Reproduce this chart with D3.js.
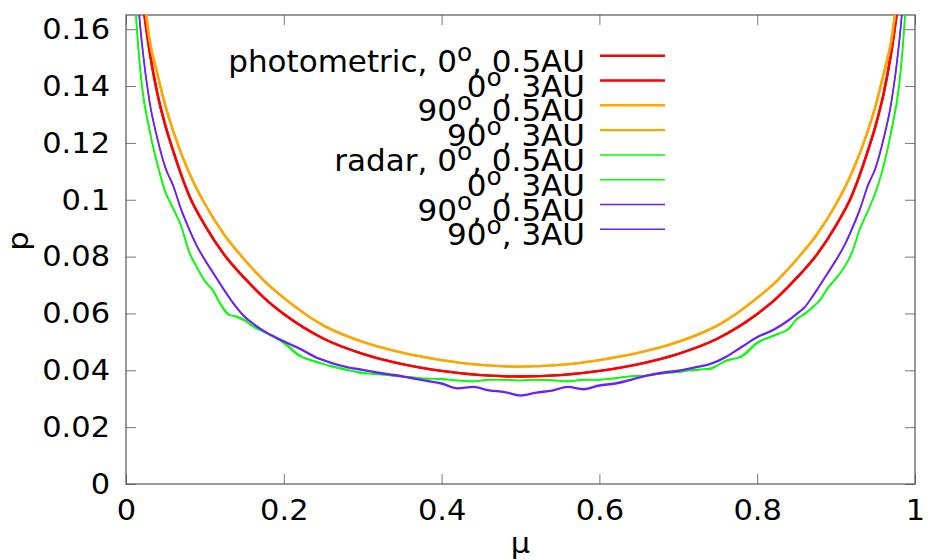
<!DOCTYPE html>
<html>
<head>
<meta charset="utf-8">
<script src="https://cdn.jsdelivr.net/npm/d3@7"></script>
<style>
  body { margin: 0; background: #fff; }
  text { font-family: "DejaVu Sans", sans-serif; }
</style>
</head>
<body>
<script>
// photometric curves (0 deg overlaps for 0.5AU and 3AU)
const muPhot = [0.02, 0.03, 0.04, 0.05, 0.06, 0.08, 0.10, 0.125, 0.15, 0.175, 0.2, 0.25, 0.3, 0.35, 0.4, 0.45, 0.5,
                0.55, 0.6, 0.65, 0.7, 0.75, 0.8, 0.825, 0.85, 0.875, 0.9, 0.92, 0.94, 0.95, 0.96, 0.97, 0.98];
const phot0 = [0.172, 0.152, 0.137, 0.126, 0.117, 0.1015, 0.091, 0.0805, 0.0725, 0.0655, 0.0598, 0.0512, 0.0458, 0.0422, 0.0398, 0.0383, 0.0378,
               0.0383, 0.0398, 0.0422, 0.0458, 0.0512, 0.0598, 0.0655, 0.0725, 0.0805, 0.091, 0.1015, 0.117, 0.126, 0.137, 0.152, 0.172];
const phot90 = [0.178, 0.156, 0.144, 0.133, 0.124, 0.1095, 0.0985, 0.0875, 0.079, 0.0715, 0.0655, 0.0558, 0.05, 0.0462, 0.0436, 0.0419, 0.0413,
                0.0419, 0.0436, 0.0462, 0.05, 0.0558, 0.0655, 0.0715, 0.079, 0.0875, 0.0985, 0.1095, 0.124, 0.133, 0.144, 0.156, 0.178];

// radar curves
const muRad = [0.005, 0.01, 0.015, 0.02, 0.03, 0.04, 0.05, 0.06, 0.07, 0.08, 0.09, 0.10, 0.11, 0.12, 0.13, 0.14, 0.15, 0.16, 0.18, 0.19,
               0.2, 0.22, 0.24, 0.26, 0.28, 0.3, 0.32, 0.34, 0.36, 0.38, 0.4, 0.42, 0.44, 0.46, 0.48, 0.5,
               0.52, 0.54, 0.56, 0.58, 0.6, 0.62, 0.64, 0.66, 0.68, 0.7, 0.72, 0.74, 0.76, 0.78, 0.8, 0.82, 0.84, 0.85,
               0.86, 0.87, 0.88, 0.89, 0.9, 0.91, 0.92, 0.93, 0.94, 0.95, 0.96, 0.97, 0.98, 0.985, 0.99, 0.995];
const rad0a = [0.20, 0.175, 0.155, 0.140, 0.124, 0.112, 0.1025, 0.097, 0.0905, 0.0815, 0.076, 0.0715, 0.068, 0.063, 0.0595, 0.059, 0.0578, 0.0555, 0.053, 0.0515,
               0.0495, 0.045, 0.0432, 0.0413, 0.040, 0.0392, 0.0385, 0.0382, 0.0375, 0.0372, 0.0368, 0.0365, 0.036, 0.0368, 0.0366, 0.0365,
               0.0366, 0.0366, 0.036, 0.0368, 0.0366, 0.0373, 0.0378, 0.0383, 0.0388, 0.0395, 0.040, 0.0407, 0.0432, 0.045, 0.0498, 0.052, 0.0548, 0.0578,
               0.060, 0.062, 0.065, 0.069, 0.0725, 0.076, 0.0815, 0.0895, 0.096, 0.1025, 0.112, 0.124, 0.140, 0.155, 0.175, 0.20];
const rad0b = [0.20, 0.176, 0.156, 0.141, 0.1245, 0.1125, 0.1028, 0.0966, 0.0908, 0.0818, 0.0763, 0.0712, 0.0683, 0.0634, 0.0598, 0.0587, 0.0575, 0.0558, 0.0527, 0.0512,
               0.0498, 0.0453, 0.0429, 0.0416, 0.0403, 0.0389, 0.0387, 0.0379, 0.0377, 0.0370, 0.0370, 0.0363, 0.0362, 0.0366, 0.0368, 0.0363,
               0.0368, 0.0364, 0.0362, 0.0366, 0.0368, 0.0371, 0.0380, 0.0381, 0.0390, 0.0393, 0.0403, 0.0404, 0.0435, 0.0447, 0.0495, 0.0523, 0.0545, 0.0581,
               0.0597, 0.0623, 0.0647, 0.0693, 0.0722, 0.0763, 0.0812, 0.0898, 0.0957, 0.1028, 0.1115, 0.1245, 0.141, 0.156, 0.176, 0.20];
const rad90a = [0.23, 0.19, 0.170, 0.155, 0.134, 0.121, 0.111, 0.105, 0.0963, 0.0895, 0.0835, 0.0787, 0.0743, 0.070, 0.0658, 0.062, 0.0588, 0.0565, 0.0528, 0.0514,
                0.050, 0.0475, 0.0445, 0.0425, 0.041, 0.040, 0.039, 0.0382, 0.0372, 0.0362, 0.0352, 0.0335, 0.034, 0.0328, 0.0322, 0.031,
                0.032, 0.0327, 0.034, 0.0332, 0.0345, 0.0352, 0.0365, 0.038, 0.039, 0.0397, 0.0408, 0.042, 0.0445, 0.048, 0.0515, 0.054, 0.0575, 0.0597,
                0.062, 0.0658, 0.070, 0.0743, 0.0787, 0.0835, 0.0895, 0.0963, 0.105, 0.111, 0.121, 0.134, 0.155, 0.170, 0.19, 0.23];
const rad90b = [0.23, 0.191, 0.171, 0.156, 0.1345, 0.1215, 0.1114, 0.1046, 0.0967, 0.0899, 0.0838, 0.0790, 0.0746, 0.0703, 0.0661, 0.0623, 0.0591, 0.0568, 0.0531, 0.0517,
                0.0503, 0.0478, 0.0448, 0.0428, 0.0413, 0.0403, 0.0393, 0.0385, 0.0375, 0.0365, 0.0355, 0.0338, 0.0343, 0.0331, 0.0325, 0.0313,
                0.0323, 0.0330, 0.0343, 0.0335, 0.0348, 0.0355, 0.0368, 0.0383, 0.0393, 0.0400, 0.0411, 0.0423, 0.0448, 0.0483, 0.0518, 0.0543, 0.0578, 0.0600,
                0.0623, 0.0661, 0.0703, 0.0746, 0.0790, 0.0838, 0.0899, 0.0967, 0.1046, 0.1114, 0.1215, 0.1345, 0.156, 0.171, 0.191, 0.23];

const xTicks = [0, 0.2, 0.4, 0.6, 0.8, 1];
const yTicks = [0, 0.02, 0.04, 0.06, 0.08, 0.1, 0.12, 0.14, 0.16];

// legend rows: text before the degree mark, text after it
const legendPre = ["photometric, 0", "0", "90", "90", "radar, 0", "0", "90", "90"];
const legendPost = [", 0.5AU", ", 3AU", ", 0.5AU", ", 3AU", ", 0.5AU", ", 3AU", ", 0.5AU", ", 3AU"];

const series = [
  {mu: muPhot, p: phot0, color: "#ff0000", w: 2.4},
  {mu: muPhot, p: phot0, color: "#ff0000", w: 2.4},
  {mu: muPhot, p: phot90, color: "#ffa500", w: 2.4},
  {mu: muPhot, p: phot90, color: "#ffa500", w: 2.4},
  {mu: muRad, p: rad0a, color: "#00ff00", w: 1.5},
  {mu: muRad, p: rad0b, color: "#00ff00", w: 1.5},
  {mu: muRad, p: rad90a, color: "#6b1fff", w: 1.5},
  {mu: muRad, p: rad90b, color: "#6b1fff", w: 1.5}
];

const width = 928, height = 560;
const margin = {top: 15, right: 13, bottom: 76, left: 126};
const sx = 1.05;      // glyphs are a bit wider than plain DejaVu in the reference
const fontSize = 29;
const keyFontSize = 31;

const x = d3.scaleLinear().domain([0, 1]).range([margin.left, width - margin.right]);
const y = d3.scaleLinear().domain([0, 0.165]).range([height - margin.bottom, margin.top]);

const svg = d3.select("body").append("svg")
    .attr("width", width)
    .attr("height", height)
    .style("font-size", fontSize + "px");

svg.append("clipPath")
    .attr("id", "plot-clip")
  .append("rect")
    .attr("x", x(0)).attr("y", y(0.165))
    .attr("width", x(1) - x(0)).attr("height", y(0) - y(0.165));

// axes with inward ticks, mirrored on top and right
const tickColor = "#777";
const gx = svg.append("g")
    .attr("transform", `translate(0,${y(0)})`)
    .call(d3.axisBottom(x).tickValues(xTicks).tickFormat(d3.format("~g"))
      .tickSizeInner(-10).tickSizeOuter(0).tickPadding(15));
const gy = svg.append("g")
    .attr("transform", `translate(${x(0)},0)`)
    .call(d3.axisLeft(y).tickValues(yTicks).tickFormat(d3.format("~g"))
      .tickSizeInner(-10).tickSizeOuter(0).tickPadding(16));
svg.append("g")
    .attr("transform", `translate(0,${y(0.165)})`)
    .call(d3.axisTop(x).tickValues(xTicks).tickFormat("").tickSizeInner(-10).tickSizeOuter(0));
svg.append("g")
    .attr("transform", `translate(${x(1)},0)`)
    .call(d3.axisRight(y).tickValues(yTicks).tickFormat("").tickSizeInner(-10).tickSizeOuter(0));

svg.selectAll(".domain").remove();
svg.selectAll(".tick line").attr("stroke", tickColor);
svg.selectAll(".tick text")
    .attr("fill", "#000")
    .attr("font-family", "DejaVu Sans")
    .attr("font-size", fontSize);
gx.selectAll(".tick text").attr("transform", `scale(${sx},1)`);
gy.selectAll(".tick text")
    .attr("x", -16 / sx)
    .attr("transform", `scale(${sx},1)`);

svg.append("rect")
    .attr("x", x(0)).attr("y", y(0.165))
    .attr("width", x(1) - x(0)).attr("height", y(0) - y(0.165))
    .attr("fill", "none")
    .attr("stroke", "#555")
    .attr("stroke-width", 1.2);

// curves
const line = d3.line()
    .x(d => x(d[0]))
    .y(d => y(d[1]))
    .curve(d3.curveMonotoneX);

svg.append("g")
    .attr("clip-path", "url(#plot-clip)")
  .selectAll("path")
  .data(series)
  .join("path")
    .attr("fill", "none")
    .attr("stroke", d => d.color)
    .attr("stroke-width", d => d.w)
    .attr("stroke-linejoin", "round")
    .attr("d", d => line(d.mu.map((m, i) => [m, d.p[i]])));

// legend (rows overlap in the reference, kept as is)
const legendTop = 55.7, legendStep = 24.8;
const key = svg.append("g")
  .selectAll("g")
  .data(series)
  .join("g")
    .attr("transform", (d, i) => `translate(0,${legendTop + i * legendStep})`);

key.append("line")
    .attr("x1", 600).attr("x2", 665)
    .attr("stroke", d => d.color)
    .attr("stroke-width", d => d.w);

const label = key.append("text")
    .attr("transform", "translate(585,16)")
    .attr("text-anchor", "end")
    .attr("font-size", keyFontSize);
label.append("tspan").text((d, i) => legendPre[i]);
label.append("tspan")
    .attr("font-size", "0.8em")
    .attr("dy", -11)
    .text("o");
label.append("tspan")
    .attr("dy", 11)
    .text((d, i) => legendPost[i]);

// axis titles
svg.append("text")
    .attr("transform", `translate(${(x(0) + x(1)) / 2},553) scale(${sx},1)`)
    .attr("text-anchor", "middle")
    .text("μ");

svg.append("text")
    .attr("transform", `translate(28,241) rotate(-90) scale(${sx},1)`)
    .attr("text-anchor", "middle")
    .text("p");
</script>
</body>
</html>
